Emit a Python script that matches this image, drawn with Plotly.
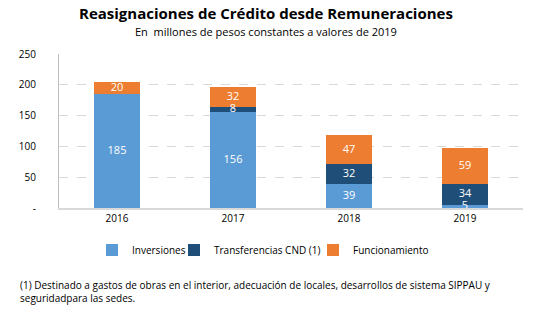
import plotly.graph_objects as go

# Reassignment data (millions of constant 2019 pesos)
years = ["2016", "2017", "2018", "2019"]
inversiones = [185, 156, 39, 5]
transferencias = [0, 8, 32, 34]
funcionamiento = [20, 32, 47, 59]

y_ticks = [0, 50, 100, 150, 200, 250]
y_ticktext = ["-", "50", "100", "150", "200", "250"]

FONT = "Open Sans"
W, H = 539, 325
L, R, T, B = 59, 16, 54, 117
PW, PH = W - L - R, H - T - B


def px(x):
    return (x - L) / PW


def py(y):
    return (H - B - y) / PH


fig = go.Figure()
series = [
    ("Inversiones", inversiones, "#5B9BD5", "legend", 118),
    ("Transferencias CND (1)", transferencias, "#1F4E79", "legend2", 200),
    ("Funcionamiento", funcionamiento, "#ED7D31", "legend3", 339),
]
base = [0] * len(years)
legends = {}
for name, vals, color, leg, lx in series:
    fig.add_trace(go.Bar(
        name=name, x=years, y=vals, marker=dict(color=color, line=dict(width=0)),
        hoverinfo="skip", legend=leg,
    ))
    legends[leg] = dict(orientation="h", x=px(lx - 40 + 14), xanchor="left",
                        y=py(250), yanchor="middle", bgcolor="rgba(0,0,0,0)",
                        font=dict(size=10, family=FONT), itemwidth=30)
    # value labels centred on each segment (zero segments unlabelled)
    xs, ys, ts = [], [], []
    for i, v in enumerate(vals):
        if v > 0:
            xs.append(years[i])
            ys.append(base[i] + v / 2)
            ts.append(str(v))
        base[i] += v
    fig.add_trace(go.Scatter(
        x=xs, y=ys, text=ts, mode="text", showlegend=False, hoverinfo="skip",
        textfont=dict(color="white", size=11, family=FONT), cliponaxis=False,
    ))

fig.update_layout(
    barmode="stack", bargap=0.6,
    width=W, height=H, margin=dict(l=L, r=R, t=T, b=B),
    paper_bgcolor="white", plot_bgcolor="white",
    font=dict(family=FONT, size=11, color="black"),
    showlegend=True,
    xaxis=dict(showline=True, linecolor="#D9D9D9", linewidth=2, ticks="",
               tickfont=dict(size=10), fixedrange=True),
    yaxis=dict(range=[0, 250], tickvals=y_ticks, ticktext=y_ticktext,
               showgrid=True, gridcolor="#D9D9D9", griddash="dash", gridwidth=1,
               showline=True, linecolor="#BFBFBF", linewidth=1, zeroline=False,
               ticks="", ticklabelstandoff=20, tickfont=dict(size=10)),
    **legends,
)

fig.add_annotation(text="<b>Reasignaciones de Crédito desde Remuneraciones</b>",
                   xref="paper", yref="paper", x=px(266), y=py(13), xanchor="center",
                   yanchor="middle", showarrow=False, font=dict(size=15, family=FONT))
fig.add_annotation(text="En  millones de pesos constantes a valores de 2019",
                   xref="paper", yref="paper", x=px(266), y=py(31), xanchor="center",
                   yanchor="middle", showarrow=False, font=dict(size=11, family=FONT))
fig.add_annotation(text="(1) Destinado a gastos de obras en el interior, adecuación de locales, desarrollos de sistema SIPPAU y<br>seguridadpara las sedes.",
                   xref="paper", yref="paper", x=px(18), y=py(276), xanchor="left",
                   yanchor="top", align="left", showarrow=False,
                   font=dict(size=10, family=FONT))

fig.write_html("out.html")
